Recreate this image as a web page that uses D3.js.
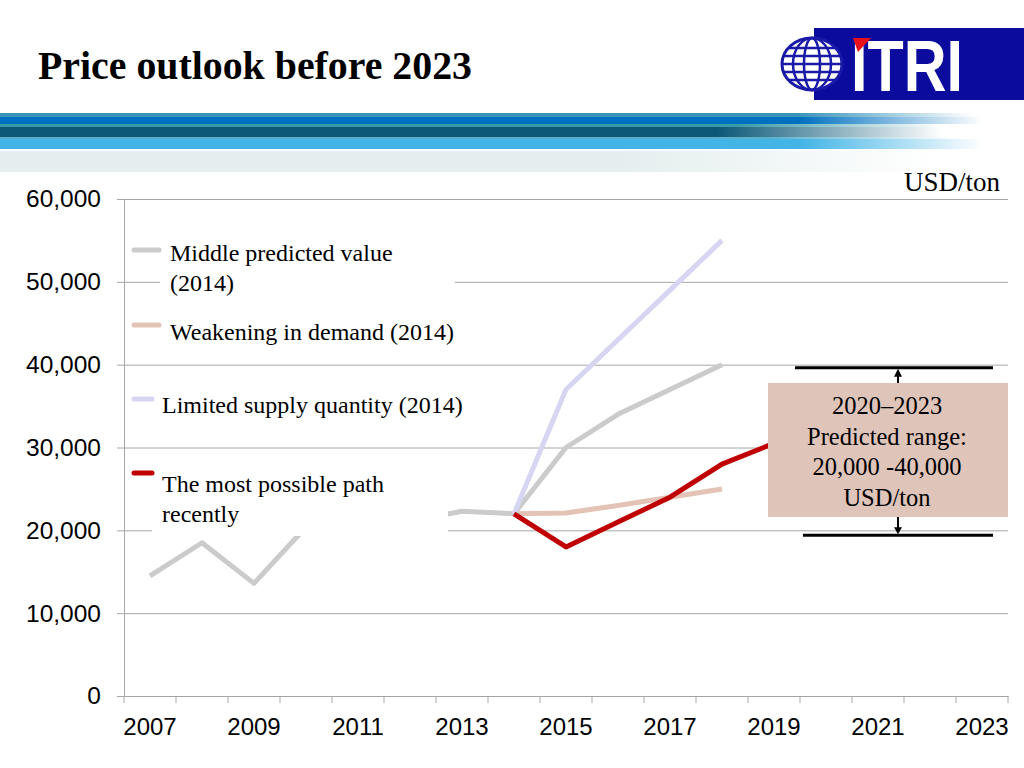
<!DOCTYPE html>
<html>
<head>
<meta charset="utf-8">
<script src="https://cdn.jsdelivr.net/npm/d3@7"></script>
<style>
  body { margin: 0; background: #fff; }
  svg { display: block; }
</style>
</head>
<body>
<script>
// categories (one band per year)
var years = [2007, 2008, 2009, 2010, 2011, 2012, 2013, 2014, 2015,
             2016, 2017, 2018, 2019, 2020, 2021, 2022, 2023]
var yTicks = [0, 10000, 20000, 30000, 40000, 50000, 60000]

// series
var middleYears  = [2007, 2008, 2009, 2010, 2011, 2012, 2013, 2014, 2015, 2016, 2017, 2018]
var middleValues = [14500, 18500, 13600, 20400, 26000, 21100, 22300, 22000, 30000, 34000, 37000, 40000]
var weakYears    = [2014, 2015, 2016, 2017, 2018]
var weakValues   = [22000, 22100, 23000, 24000, 25000]
var limitYears   = [2014, 2015, 2016, 2017, 2018]
var limitValues  = [22000, 37000, 43000, 49000, 55000]
var likelyYears  = [2014, 2015, 2016, 2017, 2018, 2019]
var likelyValues = [22000, 18000, 21000, 24000, 28000, 30500]

var rangeLow = 20000, rangeHigh = 40000
var rangeText = ["2020\u20132023", "Predicted range:", "20,000 -40,000", "USD/ton"]

var W = 1024, H = 768
var svg = d3.select("body").append("svg").attr("width", W).attr("height", H)
var defs = svg.append("defs")

////////////////////////////////////////////////////////////////////////////////
// header: title, stripes, logo
svg.append("text")
  .attr("x", 38).attr("y", 79)
  .attr("font-family", "Liberation Serif, Times New Roman, serif")
  .attr("font-weight", "bold").attr("font-size", 40)
  .attr("textLength", 434).attr("lengthAdjust", "spacingAndGlyphs")
  .text("Price outlook before 2023")

var stripes = [
  {y: 113, h: 4,  c: "#3a95b8", a: 0.78, b: 0.95},
  {y: 117, h: 7,  c: "#0070c0", a: 0.78, b: 0.96},
  {y: 124, h: 3,  c: "#3a9aa6", a: 0.72, b: 0.92},
  {y: 127, h: 10, c: "#0b5878", a: 0.7,  b: 0.92},
  {y: 137, h: 2,  c: "#5ab0c8", a: 0.75, b: 0.93},
  {y: 139, h: 10, c: "#42b4e6", a: 0.78, b: 0.96},
  {y: 151, h: 21, c: "#e4eeee", a: 0.6,  b: 0.92}
]
stripes.forEach(function(s, i) {
  var g = defs.append("linearGradient").attr("id", "st" + i)
  g.append("stop").attr("offset", 0).attr("stop-color", s.c)
  g.append("stop").attr("offset", s.a).attr("stop-color", s.c)
  g.append("stop").attr("offset", s.b).attr("stop-color", s.c).attr("stop-opacity", 0)
  svg.append("rect").attr("x", 0).attr("y", s.y).attr("width", W).attr("height", s.h)
    .attr("fill", "url(#st" + i + ")")
})

// ITRI logo
var logo = svg.append("g")
logo.append("rect").attr("x", 814).attr("y", 28).attr("width", 210).attr("height", 72).attr("fill", "#0b0b9e")
var gx = 812, gy = 64
logo.append("ellipse").attr("cx", gx).attr("cy", gy).attr("rx", 30).attr("ry", 26)
  .attr("fill", "#fff").attr("stroke", "#1a1aa8").attr("stroke-width", 3)
;[19, 8].forEach(function(r) {
  logo.append("ellipse").attr("cx", gx).attr("cy", gy).attr("rx", r).attr("ry", 26)
    .attr("fill", "none").attr("stroke", "#1a1aa8").attr("stroke-width", 2.5)
})
;[-16, -8, 0, 8, 16].forEach(function(d) {
  var hw = 30 * Math.sqrt(1 - (d / 26) * (d / 26))
  logo.append("line").attr("x1", gx - hw).attr("x2", gx + hw).attr("y1", gy + d).attr("y2", gy + d)
    .attr("stroke", "#1a1aa8").attr("stroke-width", 2.5)
})
logo.append("text").attr("x", 851).attr("y", 91)
  .attr("font-family", "Liberation Sans, Arial, sans-serif").attr("font-weight", "bold")
  .attr("font-size", 72).attr("fill", "#fff")
  .attr("textLength", 112).attr("lengthAdjust", "spacingAndGlyphs")
  .text("ITRI")
logo.append("polygon").attr("points", "853,38 871,38 858,52").attr("fill", "#e8101a")

////////////////////////////////////////////////////////////////////////////////
// scales + axes
var x = d3.scaleBand().domain(years).range([124, 1008])
var y = d3.scaleLinear().domain([0, 60000]).range([696, 199])
function cx(yr) { return x(yr) + x.bandwidth() / 2 }

var gridColor = "#a6a6a6"

svg.append("g")
  .attr("transform", "translate(124,0)")
  .call(d3.axisLeft(y).tickValues(yTicks).tickSize(-884).tickFormat(""))
  .call(function(g) {
    g.select(".domain").remove()
    g.selectAll("line").attr("stroke", gridColor).attr("x1", -7)
  })

svg.append("g")
  .attr("transform", "translate(124,0)")
  .call(d3.axisLeft(y).tickValues(yTicks).tickSize(0).tickPadding(23).tickFormat(d3.format(",")))
  .call(function(g) {
    g.select(".domain").attr("stroke", gridColor)
    g.selectAll("text").attr("font-family", "Liberation Sans, Arial, sans-serif")
      .attr("font-size", 24.5).attr("fill", "#000")
  })

var xAxis = svg.append("g")
  .attr("transform", "translate(0,696)")
  .call(d3.axisBottom(x).tickSize(0).tickPadding(22)
    .tickFormat(function(d, i) { return i % 2 === 0 ? d : "" }))
xAxis.select(".domain").attr("stroke", gridColor)
xAxis.selectAll("text").attr("font-family", "Liberation Sans, Arial, sans-serif")
  .attr("font-size", 24).attr("fill", "#000")
// band boundary ticks
var edges = years.map(function(d) { return x(d) }).concat([x(years[years.length - 1]) + x.bandwidth()])
xAxis.selectAll(".edge").data(edges).enter().append("line")
  .attr("x1", function(d) { return d }).attr("x2", function(d) { return d })
  .attr("y1", 0).attr("y2", 7).attr("stroke", gridColor)

////////////////////////////////////////////////////////////////////////////////
// lines
var line = d3.line().x(function(d) { return cx(d[0]) }).y(function(d) { return y(d[1]) })
var series = [
  {yrs: middleYears, vals: middleValues, color: "#cbcbcb"},
  {yrs: weakYears,   vals: weakValues,   color: "#e2c3b5"},
  {yrs: limitYears,  vals: limitValues,  color: "#d6d6f2"},
  {yrs: likelyYears, vals: likelyValues, color: "#c00000"}
]
series.forEach(function(s) {
  svg.append("path")
    .datum(d3.zip(s.yrs, s.vals))
    .attr("d", line)
    .attr("fill", "none").attr("stroke", s.color)
    .attr("stroke-width", 5).attr("stroke-linejoin", "round")
})

////////////////////////////////////////////////////////////////////////////////
// legend (text boxes with white fill sit over the plot)
var serif = "Liberation Serif, Times New Roman, serif"
svg.append("rect").attr("x", 160).attr("y", 238).attr("width", 295).attr("height", 62).attr("fill", "#fff")
svg.append("rect").attr("x", 152).attr("y", 466).attr("width", 296).attr("height", 70).attr("fill", "#fff")

var legend = [
  {color: "#cbcbcb", x2: 159, ly: 250, tx: 170, lines: ["Middle predicted value", "(2014)"], ty: 261},
  {color: "#e2c3b5", x2: 159, ly: 325, tx: 170, lines: ["Weakening in demand (2014)"], ty: 340},
  {color: "#d6d6f2", x2: 152, ly: 399, tx: 162, lines: ["Limited supply quantity (2014)"], ty: 413},
  {color: "#c00000", x2: 152, ly: 473, tx: 162, lines: ["The most possible path", "recently"], ty: 492}
]
legend.forEach(function(l) {
  svg.append("line").attr("x1", 134).attr("x2", l.x2).attr("y1", l.ly).attr("y2", l.ly)
    .attr("stroke", l.color).attr("stroke-width", 5).attr("stroke-linecap", "round")
  var t = svg.append("text").attr("font-family", serif).attr("font-size", 24).attr("fill", "#000")
  l.lines.forEach(function(s, i) {
    t.append("tspan").attr("x", l.tx).attr("y", l.ty + i * 29.5).text(s)
  })
})

svg.append("text").attr("x", 1000).attr("y", 191).attr("text-anchor", "end")
  .attr("font-family", serif).attr("font-size", 27).text("USD/ton")

////////////////////////////////////////////////////////////////////////////////
// predicted range annotation
var ann = svg.append("g")
ann.append("line").attr("x1", 795).attr("x2", 993).attr("y1", y(rangeHigh) + 3).attr("y2", y(rangeHigh) + 3)
  .attr("stroke", "#000").attr("stroke-width", 3)
ann.append("line").attr("x1", 803).attr("x2", 993).attr("y1", y(rangeLow) + 5).attr("y2", y(rangeLow) + 5)
  .attr("stroke", "#000").attr("stroke-width", 3)

var boxTop = 383, boxBot = 517, ax = 898
ann.append("line").attr("x1", ax).attr("x2", ax).attr("y1", boxTop).attr("y2", y(rangeHigh) + 10)
  .attr("stroke", "#000").attr("stroke-width", 2)
ann.append("polygon").attr("points", [[ax - 4, y(rangeHigh) + 12], [ax + 4, y(rangeHigh) + 12], [ax, y(rangeHigh) + 4]].join(" "))
ann.append("line").attr("x1", ax).attr("x2", ax).attr("y1", boxBot).attr("y2", y(rangeLow) - 2)
  .attr("stroke", "#000").attr("stroke-width", 2)
ann.append("polygon").attr("points", [[ax - 4, y(rangeLow) - 3], [ax + 4, y(rangeLow) - 3], [ax, y(rangeLow) + 4]].join(" "))

ann.append("rect").attr("x", 768).attr("y", boxTop).attr("width", 240).attr("height", boxBot - boxTop)
  .attr("fill", "#dfc4ba")
var at = ann.append("text").attr("text-anchor", "middle").attr("font-family", serif)
  .attr("font-size", 24.5).attr("fill", "#000")
rangeText.forEach(function(s, i) {
  at.append("tspan").attr("x", 887).attr("y", 414 + i * 30.7).text(s)
})
</script>
</body>
</html>
